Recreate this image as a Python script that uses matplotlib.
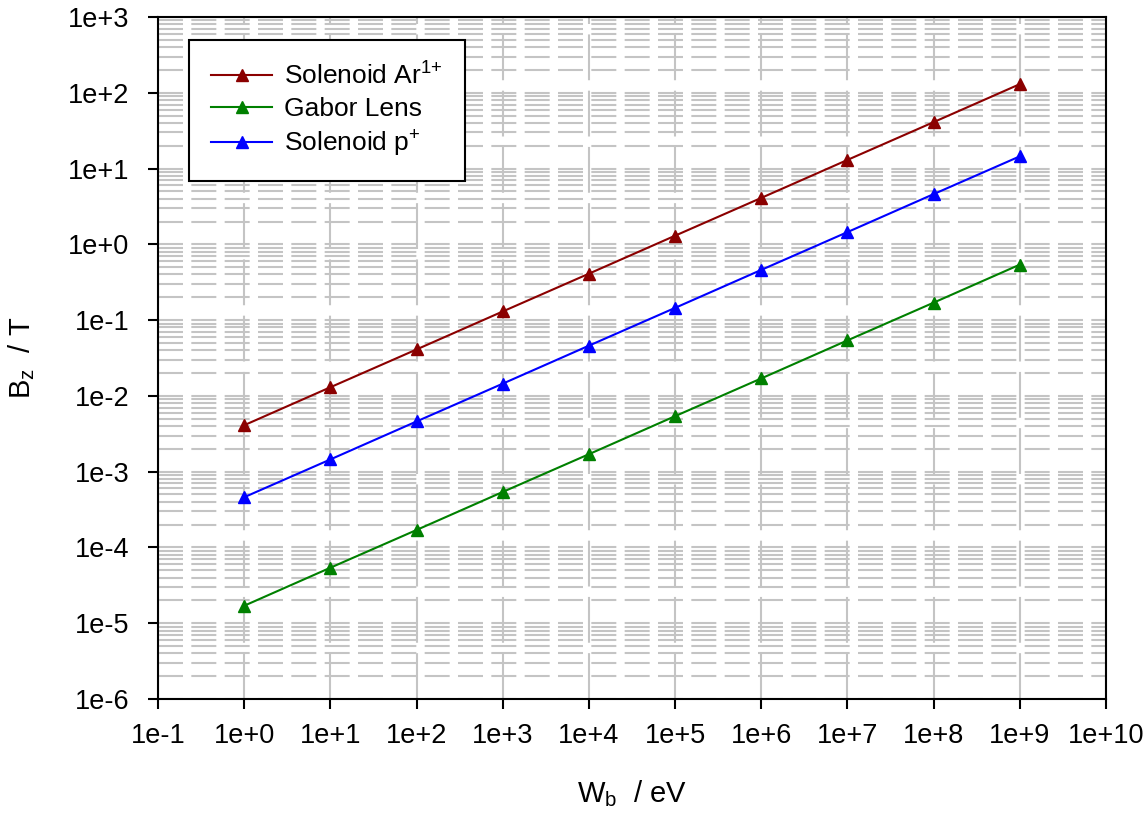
import matplotlib
matplotlib.use("Agg")
import matplotlib.pyplot as plt
from matplotlib.ticker import LogLocator, FixedLocator, NullFormatter

plt.rcParams['font.family'] = ['Liberation Sans', 'DejaVu Sans']
plt.rcParams['mathtext.fontset'] = 'custom'
plt.rcParams['mathtext.rm'] = 'Liberation Sans'
plt.rcParams['mathtext.it'] = 'Liberation Sans'

energy = [1e0, 1e1, 1e2, 1e3, 1e4, 1e5, 1e6, 1e7, 1e8, 1e9]
solenoid_ar = [4.1e-3, 1.3e-2, 4.1e-2, 1.3e-1, 4.1e-1, 1.3, 4.1, 13.0, 41.0, 130.0]
gabor = [1.7e-5, 5.4e-5, 1.7e-4, 5.4e-4, 1.7e-3, 5.4e-3, 1.7e-2, 5.4e-2, 0.17, 0.54]
solenoid_p = [4.6e-4, 1.45e-3, 4.6e-3, 1.45e-2, 4.6e-2, 0.145, 0.46, 1.45, 4.6, 14.5]

xticks = [10.0 ** k for k in range(-1, 11)]
xlabels = ['1e-1', '1e+0', '1e+1', '1e+2', '1e+3', '1e+4', '1e+5', '1e+6', '1e+7', '1e+8', '1e+9', '1e+10']
yticks = [10.0 ** k for k in range(-6, 4)]
ylabels = ['1e-6', '1e-5', '1e-4', '1e-3', '1e-2', '1e-1', '1e+0', '1e+1', '1e+2', '1e+3']

fig = plt.figure(figsize=(11.47, 8.18), dpi=100)
ax = fig.add_axes([158/1147, 1 - 699/818, (1106-158)/1147, (699-17)/818])

ax.set_xscale('log')
ax.set_yscale('log')
ax.set_xlim(1e-1, 1e10)
ax.set_ylim(1e-6, 1e3)

ax.plot(energy, solenoid_ar, color='#8B0000', marker='^', markersize=8.5, lw=1.5,
        label='Solenoid Ar$^{\\mathregular{1{+}}}$', zorder=3)
ax.plot(energy, gabor, color='#008000', marker='^', markersize=8.5, lw=1.5,
        label='Gabor Lens', zorder=3)
ax.plot(energy, solenoid_p, color='#0000FF', marker='^', markersize=8.5, lw=1.5,
        label='Solenoid p$^{\\mathregular{{+}}}$', zorder=3)

ax.set_xticks(xticks)
ax.set_xticklabels(xlabels)
ax.xaxis.set_minor_locator(FixedLocator([]))
ax.set_yticks(yticks)
ax.set_yticklabels(ylabels)
ax.yaxis.set_minor_locator(LogLocator(base=10, subs=range(2, 10), numticks=20))
ax.yaxis.set_minor_formatter(NullFormatter())

ax.tick_params(axis='both', which='major', direction='out', length=7.5, width=1.5,
               labelsize=19.5, top=False, right=False)
ax.tick_params(axis='y', which='major', pad=13)
ax.tick_params(axis='x', which='major', pad=10)
ax.tick_params(axis='y', which='minor', length=0)

ax.grid(True, axis='x', which='major', color='#c4c4c4', lw=1.5, ls=(0, (22, 5)), zorder=0)
ax.grid(True, axis='y', which='both', color='#c4c4c4', lw=1.5, ls=(0, (12, 4)), zorder=0)
ax.set_axisbelow(True)

for s in ax.spines.values():
    s.set_linewidth(1.5)
    s.set_color('black')

ax.set_xlabel('W$_\\mathregular{b}$  / eV', fontsize=21, labelpad=21)
ax.set_ylabel('B$_\\mathregular{z}$  / T', fontsize=21, labelpad=22)

leg = ax.legend(loc='upper left', bbox_to_anchor=(31/948, 1 - 23/682), borderaxespad=0,
                fontsize=19, fancybox=False, edgecolor='black', framealpha=1,
                handlelength=2.3, borderpad=0.85, labelspacing=0.28, handletextpad=0.45)
leg.get_frame().set_linewidth(1.5)

fig.savefig('out.png', dpi=100)
